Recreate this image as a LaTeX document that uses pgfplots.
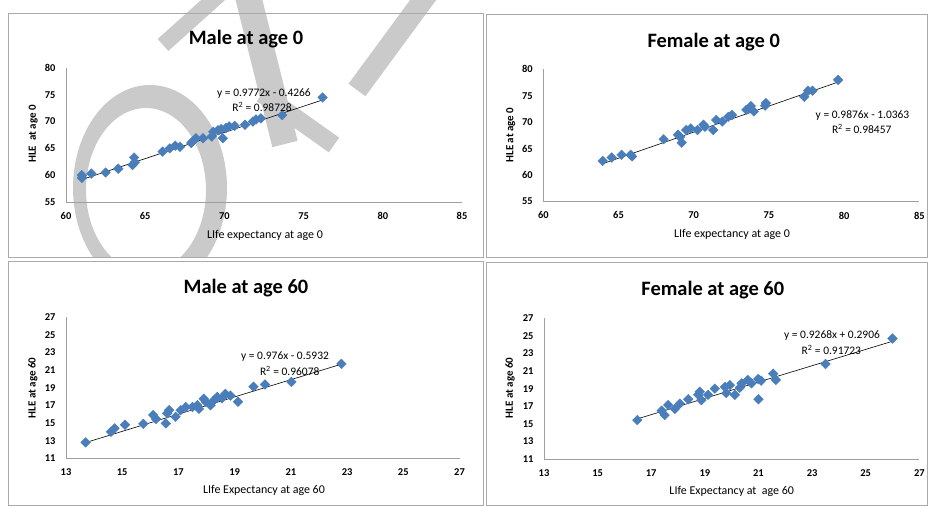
\documentclass[border=0pt]{standalone}
\usepackage{pgfplots}
\pgfplotsset{compat=1.18}
\usepackage{fontspec}
\setmainfont{Carlito}
\definecolor{xblue}{RGB}{74,126,187}
\definecolor{frame}{RGB}{170,170,170}
\definecolor{wm}{RGB}{202,202,202}
\pgfplotsset{
  panel/.style={
    scale only axis, anchor=south west,
    axis x line=bottom, axis y line=left,
    axis line style={draw=gray!75, line width=0.9bp, -},
    major tick length=0pt,
    ticklabel style={font=\bfseries\fontsize{10.5}{12}\selectfont},
    xticklabel style={yshift=-7bp},
    yticklabel style={xshift=-7bp},
    /pgf/number format/assume math mode=true,
    clip=false,
  },
  pts/.style={only marks, mark=square*, mark size=3.4bp,
    mark options={rotate=45, fill=xblue, draw=xblue}},
  trend/.style={black, line width=0.6bp, no marks},
}
\begin{document}
\begin{tikzpicture}[x=1bp,y=1bp]
\useasboundingbox (0,0) rectangle (928,506);
\fill[white] (0,0) rectangle (928,506);
% watermark (behind the top-left panel)
\begin{scope}
\clip (0,248) rectangle (484,506);
\fill[wm, even odd rule] (150,318) ellipse[x radius=77, y radius=103]
                         (146,316) ellipse[x radius=60, y radius=82];
\draw[wm, line width=16bp, line cap=butt] (163,461) -- (222,514);
\draw[wm, line width=26bp, line cap=butt] (247,514) -- (285,362);
\draw[wm, line width=18bp, line cap=butt] (262,412) -- (334,361);
\draw[wm, line width=21bp, line cap=butt] (357,416) -- (429,514);
\end{scope}
% frames
\draw[frame, line width=1bp] (8,248) rectangle (483,492);
\draw[frame, line width=1bp] (486,248) rectangle (927.5,491);
\draw[frame, line width=1bp] (8,0.5) rectangle (483,244);
\draw[frame, line width=1bp] (486,0.5) rectangle (927.5,243);

% Panel 1: Male at age 0
\begin{axis}[panel, at={(66bp,304bp)}, width=396bp, height=134bp,
  xmin=60, xmax=85, ymin=55, ymax=80,
  xtick={60,65,...,85}, ytick={55,60,...,80}]
\addplot[pts] coordinates {
(61.0,59.5)(61.0,60.0)(61.6,60.3)(62.5,60.5)(63.3,61.2)(64.2,61.9)(64.35,62.4)(64.3,63.3)
(66.1,64.4)(66.55,65.0)(66.9,65.5)(67.2,65.3)(67.9,66.0)(68.0,66.3)(68.2,66.9)(68.65,66.9)
(69.2,67.2)(69.3,68.1)(69.6,68.4)(69.8,68.6)(69.9,66.9)(70.1,68.8)(70.3,69.1)(70.65,69.2)
(71.3,69.4)(71.8,70.0)(72.0,70.4)(72.3,70.6)(73.65,71.2)(76.2,74.5)};
\addplot[trend] coordinates {(61.0,59.18)(76.2,74.04)};
\end{axis}

% Panel 2: Female at age 0
\begin{axis}[panel, at={(543.3bp,304.7bp)}, width=376bp, height=132bp,
  xmin=60, xmax=85, ymin=55, ymax=80,
  xtick={60,65,...,85}, ytick={55,60,...,80}]
\addplot[pts] coordinates {
(63.95,62.65)(64.55,63.3)(65.2,63.8)(65.8,63.8)(65.9,63.5)(68.0,66.75)(68.95,67.6)(69.1,67.2)
(69.2,66.1)(69.5,68.5)(69.8,68.8)(70.25,68.5)(70.65,69.5)(70.75,69.1)(71.3,68.5)(71.5,70.4)
(71.9,70.1)(72.3,71.0)(72.55,71.35)(73.5,72.3)(73.8,73.05)(74.0,72.0)(74.75,73.1)(74.8,73.6)
(77.35,74.8)(77.6,75.95)(77.9,75.95)(79.6,78.0)};
\addplot[trend] coordinates {(63.95,62.12)(79.6,77.58)};
\end{axis}

% Panel 3: Male at age 60
\begin{axis}[panel, at={(66bp,47.7bp)}, width=393.5bp, height=141.3bp,
  xmin=13, xmax=27, ymin=11, ymax=27,
  xtick={13,15,...,27}, ytick={11,13,...,27}]
\addplot[pts] coordinates {
(13.7,12.8)(14.6,14.0)(14.73,14.4)(15.1,14.8)(15.75,14.9)(16.1,15.9)(16.2,15.45)(16.55,14.95)
(16.6,16.1)(16.67,16.45)(16.9,15.7)(17.08,16.45)(17.26,16.8)(17.5,16.8)(17.67,17.0)(17.73,16.6)
(17.9,17.75)(17.97,17.4)(18.14,17.0)(18.26,17.55)(18.38,17.95)(18.55,17.8)(18.67,18.3)(18.85,18.1)
(19.12,17.4)(19.67,19.1)(20.08,19.35)(21.02,19.65)(22.8,21.7)};
\addplot[trend] coordinates {(13.7,12.78)(22.8,21.66)};
\end{axis}

% Panel 4: Female at age 60
\begin{axis}[panel, at={(544bp,47bp)}, width=375.3bp, height=140.7bp,
  xmin=13, xmax=27, ymin=11, ymax=27,
  xtick={13,15,...,27}, ytick={11,13,...,27}]
\addplot[pts] coordinates {
(16.48,15.43)(17.39,16.5)(17.5,16.0)(17.63,17.14)(17.88,16.7)(18.07,17.3)(18.38,17.8)(18.75,18.3)
(18.81,18.65)(18.87,17.7)(19.12,18.3)(19.37,19.0)(19.75,19.2)(19.8,18.5)(19.93,19.4)(20.12,18.3)
(20.3,19.1)(20.37,19.6)(20.6,20.0)(20.74,19.6)(20.99,20.1)(21.0,17.8)(21.1,19.9)(21.55,20.7)
(21.65,20.0)(23.5,21.8)(26.0,24.7)};
\addplot[trend] coordinates {(16.48,15.56)(26.0,24.39)};
\end{axis}

% titles
\node[font=\bfseries\fontsize{20.5}{24}\selectfont] at (246,466.7) {Male at age 0};
\node[font=\bfseries\fontsize{20.5}{24}\selectfont] at (713.7,464.3) {Female at age 0};
\node[font=\bfseries\fontsize{20.5}{24}\selectfont] at (246,217.7) {Male at age 60};
\node[font=\bfseries\fontsize{20.5}{24}\selectfont] at (712.8,216) {Female at age 60};
% x labels
\node[font=\fontsize{12}{14}\selectfont] at (265,270.3) {LIfe expectancy at age 0};
\node[font=\fontsize{12}{14}\selectfont] at (732,271.7) {LIfe expectancy at age 0};
\node[font=\fontsize{12}{14}\selectfont] at (264,16) {LIfe Expectancy at age 60};
\node[font=\fontsize{12}{14}\selectfont] at (731.7,14.3) {LIfe Expectancy at\ \ age 60};
% y labels
\node[font=\bfseries\fontsize{11}{13}\selectfont, rotate=90] at (33.3,372) {HLE\ \ at age 0};
\node[font=\bfseries\fontsize{11}{13}\selectfont, rotate=90] at (510.7,371) {HLE at age 0};
\node[font=\bfseries\fontsize{11}{13}\selectfont, rotate=90] at (32.7,118) {HLE at age 60};
\node[font=\bfseries\fontsize{11}{13}\selectfont, rotate=90] at (510,118) {HLE at age 60};
% equations
\node[font=\fontsize{11.5}{13}\selectfont] at (264,412) {y = 0.9772x - 0.4266};
\node[font=\fontsize{11.5}{13}\selectfont] at (262,399) {R\textsuperscript{2} = 0.98728};
\node[font=\fontsize{11.5}{13}\selectfont] at (862.5,390) {y = 0.9876x - 1.0363};
\node[font=\fontsize{11.5}{13}\selectfont] at (861.7,377) {R\textsuperscript{2} = 0.98457};
\node[font=\fontsize{11.5}{13}\selectfont] at (285,149.3) {y = 0.976x - 0.5932};
\node[font=\fontsize{11.5}{13}\selectfont] at (289.7,135.3) {R\textsuperscript{2} = 0.96078};
\node[font=\fontsize{11.5}{13}\selectfont] at (832,170) {y = 0.9268x + 0.2906};
\node[font=\fontsize{11.5}{13}\selectfont] at (831.3,156) {R\textsuperscript{2} = 0.91723};
\end{tikzpicture}
\end{document}
